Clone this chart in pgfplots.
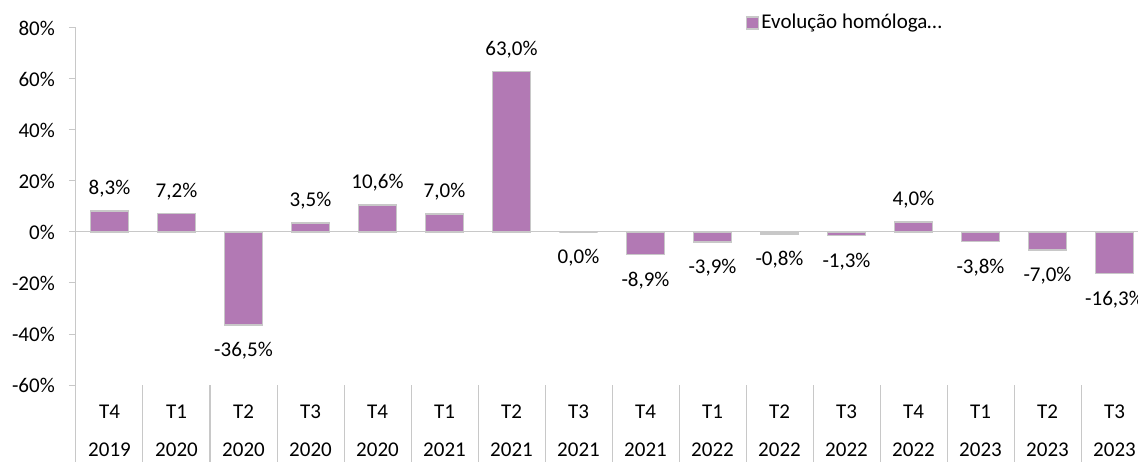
\documentclass[border=0pt]{standalone}
\usepackage{fontspec}
\setmainfont{Carlito}
\usepackage{pgfplots}
\pgfplotsset{compat=1.18}
\definecolor{barcol}{HTML}{B279B4}
\definecolor{edgecol}{HTML}{C8C8C8}
\definecolor{axcol}{HTML}{C8C8C8}

\begin{document}
\fontsize{21}{25}\selectfont
\begin{tikzpicture}
\begin{axis}[at={(0,0)}, anchor=south west, scale only axis, width=1072pt, height=357pt,
             xmin=-0.5, xmax=15.5, ymin=-60, ymax=80, clip=false,
             ybar, bar width=0.57,
             axis lines*=left, x axis line style={draw=none}, y axis line style={draw=axcol, line width=1pt},
             ytick={-60,-40,...,80}, yticklabels={-60\%,-40\%,-20\%,0\%,20\%,40\%,60\%,80\%},
             tick align=outside, major tick length=7pt, ytick style={draw=axcol, line width=1pt},
             yticklabel style={anchor=east, xshift=-7pt},
             xtick={0,...,15}, xtick style={draw=none},
             xticklabels={T4\\2019,T1\\2020,T2\\2020,T3\\2020,T4\\2020,T1\\2021,T2\\2021,T3\\2021,
                          T4\\2021,T1\\2022,T2\\2022,T3\\2022,T4\\2022,T1\\2023,T2\\2023,T3\\2023},
             xticklabel style={align=center, anchor=north, yshift=-6pt, font=\fontsize{21}{38}\selectfont},
             legend style={at={(rel axis cs:0.622,1.014)}, anchor=west, draw=none, fill=none},
             legend image code/.code={\draw[fill=barcol, draw=edgecol, line width=1.5pt] (0pt,-6pt) rectangle (12pt,6pt);},
             nodes near coords={\pgfmathprintnumber[fixed,fixed zerofill,precision=1,use comma,assume math mode=true]{\pgfplotspointmeta}\%},
             point meta=y]
% linha do zero e separadores das categorias
\draw[axcol, line width=1pt] (axis cs:-0.5,0) -- (axis cs:15.5,0);
\draw[axcol, line width=1pt] (axis cs:-0.5,-60) -- ++(0pt,-80pt);
\pgfplotsinvokeforeach{1,...,16}{\draw[axcol, line width=1pt] (axis cs:#1-0.5,-60) -- ++(0pt,-80pt);}
\addplot[fill=barcol, draw=edgecol, line width=1.5pt, bar shift=0pt,
         every node near coord/.append style={anchor=center, yshift=22pt, text=black}]
  coordinates {(0,8.3) (1,7.2) (3,3.5) (4,10.6) (5,7.0) (6,63.0) (12,4.0)};
\addlegendentry{Evolução homóloga…}
\addplot[fill=barcol, draw=edgecol, line width=1.5pt, bar shift=0pt, forget plot,
         every node near coord/.append style={anchor=center, yshift=-26pt, text=black}]
  coordinates {(2,-36.5) (7,0) (8,-8.9) (9,-3.9) (10,-0.8) (11,-1.3) (13,-3.8) (14,-7.0) (15,-16.3)};
\end{axis}
\pgfresetboundingbox
\path[use as bounding box] (-76pt,-76pt) rectangle (1062pt,385pt);
\end{tikzpicture}
\end{document}
